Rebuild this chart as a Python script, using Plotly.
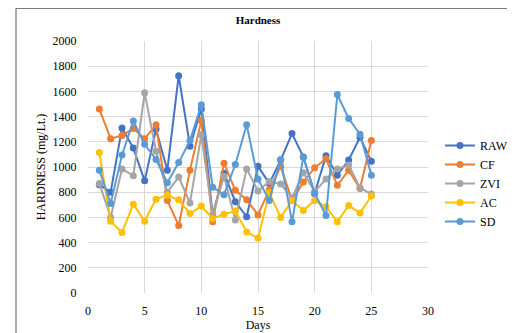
import plotly.graph_objects as go

days = list(range(1, 26))
raw = [860, 800, 1310, 1150, 890, 1300, 975, 1725, 1165, 1460, 620, 950, 725, 605, 1005, 870, 1055, 1265, 1080, 790, 1090, 935, 1055, 1235, 1045]
cf = [1460, 1225, 1250, 1305, 1225, 1335, 735, 535, 975, 1370, 565, 1030, 815, 740, 620, 820, 1005, 735, 880, 995, 1065, 855, 975, 830, 1210]
zvi = [870, 600, 985, 930, 1590, 1125, 800, 920, 715, 1255, 620, 925, 580, 985, 810, 885, 865, 755, 955, 805, 905, 985, 1015, 835, 785]
ac = [1115, 570, 480, 705, 570, 745, 775, 740, 630, 690, 590, 625, 650, 485, 435, 795, 600, 735, 655, 735, 685, 565, 695, 635, 770]
sd = [975, 710, 1095, 1365, 1180, 1060, 875, 1035, 1210, 1495, 840, 780, 1020, 1335, 905, 735, 1060, 565, 1080, 790, 615, 1575, 1385, 1260, 935]

series = [("RAW", raw, "#4472C4"), ("CF", cf, "#ED7D31"), ("ZVI", zvi, "#A5A5A5"),
          ("AC", ac, "#FFC000"), ("SD", sd, "#5B9BD5")]

font = "Liberation Serif"
W, H = 507, 325  # page body adds 8px margin on left/top
fig = go.Figure()
for name, vals, col in series:
    fig.add_trace(go.Scatter(x=days, y=vals, name=name, mode="lines+markers",
                             line=dict(color=col, width=2),
                             marker=dict(color=col, size=7)))

fig.update_layout(
    width=W, height=H,
    margin=dict(l=80, r=87, t=33, b=40, autoexpand=False),
    paper_bgcolor="white", plot_bgcolor="white",
    font=dict(family=font, size=12, color="#000000"),
    title=dict(text="<b>Hardness</b>", x=250/W, xanchor="center", y=1-12/H, yanchor="middle",
               font=dict(family=font, size=11)),
    xaxis=dict(range=[0, 30], dtick=5, showgrid=True, gridcolor="#D9D9D9", gridwidth=1,
               zeroline=False, showline=False, ticks="outside", ticklen=7, automargin=False,
               tickcolor="rgba(0,0,0,0)", tickfont=dict(family=font, size=12),
               title=dict(text="Days", font=dict(family=font, size=12), standoff=2)),
    yaxis=dict(range=[0, 2000], dtick=200, showgrid=True, gridcolor="#D9D9D9", gridwidth=1,
               zeroline=False, showline=False, ticks="outside", ticklen=8, automargin=False,
               tickcolor="rgba(0,0,0,0)", tickfont=dict(family=font, size=12),
               title=dict(text="HARDNESS (mg/Lt.)", font=dict(family=font, size=12), standoff=4)),
    legend=dict(x=432/W, xanchor="left", y=1-123/H, yanchor="top", yref="container", xref="container",
                font=dict(family=font, size=12), bgcolor="rgba(0,0,0,0)", itemwidth=30,
                tracegroupgap=0),
    showlegend=True,
)
fig.add_shape(type="rect", xref="paper", yref="paper",
              x0=(8-80)/340, x1=(530-80)/340, y0=(284.7-350)/252, y1=(284.7-0)/252,
              line=dict(color="#595959", width=1), fillcolor="rgba(0,0,0,0)", layer="below")
fig.write_html("out.html")
